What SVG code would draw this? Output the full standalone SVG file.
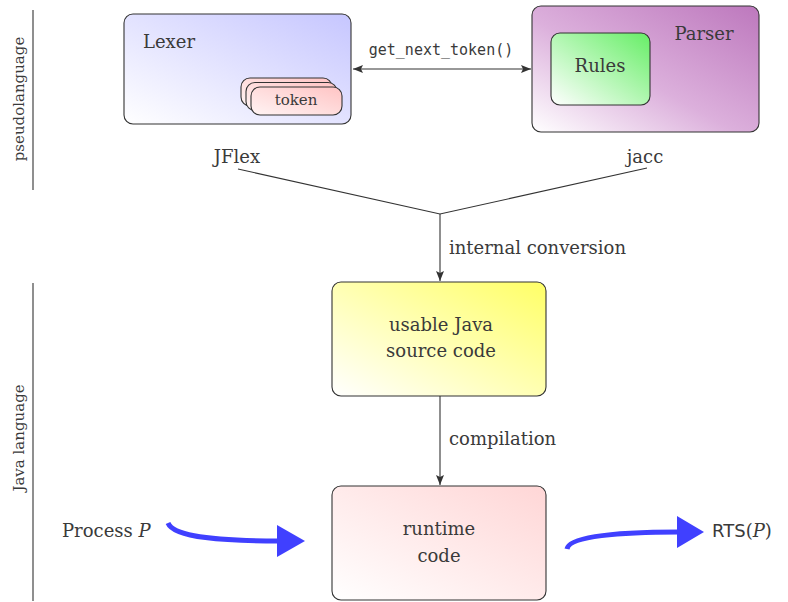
<svg xmlns="http://www.w3.org/2000/svg" width="788" height="602" viewBox="0 0 788 602">
<defs>
<linearGradient id="gLex" x1="0" y1="1" x2="1" y2="0"><stop offset="0" stop-color="#ffffff"/><stop offset="1" stop-color="#c6c6ff"/></linearGradient>
<linearGradient id="gPar" x1="0" y1="1" x2="1" y2="0"><stop offset="0" stop-color="#ffffff"/><stop offset="0.45" stop-color="#dcb0dc"/><stop offset="1" stop-color="#bd78bd"/></linearGradient>
<linearGradient id="gRul" x1="0" y1="1" x2="1" y2="0"><stop offset="0" stop-color="#ffffff"/><stop offset="1" stop-color="#66ee66"/></linearGradient>
<linearGradient id="gTok" x1="0" y1="1" x2="1" y2="0"><stop offset="0" stop-color="#fff4f4"/><stop offset="1" stop-color="#ffc4c4"/></linearGradient>
<linearGradient id="gYel" x1="0" y1="1" x2="1" y2="0"><stop offset="0" stop-color="#ffffff"/><stop offset="1" stop-color="#ffff66"/></linearGradient>
<linearGradient id="gPink" x1="0" y1="1" x2="1" y2="0"><stop offset="0" stop-color="#ffffff"/><stop offset="1" stop-color="#ffd6d6"/></linearGradient>
<marker id="ah" viewBox="0 0 10 8" refX="10" refY="4" markerWidth="10" markerHeight="8" markerUnits="userSpaceOnUse" orient="auto-start-reverse"><path d="M0,0 L10,4 L0,8 L2,4 Z" fill="#333"/></marker>
</defs>
<style>
.box{stroke:#333;stroke-width:1.1}
.t{font-family:"DejaVu Serif","Liberation Serif",serif;font-size:18px;fill:#3a3a3a}
.c{text-anchor:middle}
.ln{fill:none;stroke:#333;stroke-width:1.1}
.blue{fill:none;stroke:#4040ff;stroke-width:5}
.bh{fill:#4040ff}
</style>

<g id="side">
<line x1="33" y1="10" x2="33" y2="190" class="ln"/>
<line x1="33" y1="283" x2="33" y2="601" class="ln"/>
<text class="t c" style="font-size:15px" transform="translate(24,99) rotate(-90)">pseudolanguage</text>
<text class="t c" style="font-size:15px" transform="translate(24,438) rotate(-90)">Java language</text>
</g>

<g id="lexer">
<rect x="124" y="14" width="227" height="110" rx="9" class="box" fill="url(#gLex)"/>
<text x="143" y="48" class="t">Lexer</text>
<g id="token">
<rect x="241" y="78" width="91" height="28" rx="9" class="box" fill="url(#gTok)"/>
<rect x="246" y="82.5" width="91" height="28" rx="9" class="box" fill="url(#gTok)"/>
<rect x="251" y="87" width="91" height="28" rx="9" class="box" fill="url(#gTok)"/>
<text x="296" y="105" class="t c" style="font-size:15px">token</text>
</g>
</g>

<g id="parser">
<rect x="532" y="6" width="227" height="126" rx="9" class="box" fill="url(#gPar)"/>
<text x="704" y="40" class="t c">Parser</text>
<g id="rules">
<rect x="551" y="33" width="99" height="72" rx="9" class="box" fill="url(#gRul)"/>
<text x="600" y="72" class="t c">Rules</text>
</g>
</g>

<g id="jflex"><text x="237" y="163" class="t c">JFlex</text></g>
<g id="jacc"><text x="645" y="163" class="t c">jacc</text></g>

<g id="usable">
<rect x="332" y="282" width="214" height="114" rx="9" class="box" fill="url(#gYel)"/>
<text x="441" y="331" class="t c">usable Java</text>
<text x="441" y="357" class="t c">source code</text>
</g>

<g id="runtime">
<rect x="332" y="486" width="214" height="114" rx="9" class="box" fill="url(#gPink)"/>
<text x="439" y="535" class="t c">runtime</text>
<text x="439" y="562" class="t c">code</text>
</g>

<g id="process"><text x="62" y="537" class="t">Process <tspan font-style="italic">P</tspan></text></g>
<g id="rts"><text x="712" y="537" class="t"><tspan style="font-family:'DejaVu Sans','Liberation Sans',sans-serif">RTS</tspan>(<tspan font-style="italic">P</tspan>)</text></g>

<g id="connectors">
<line x1="353" y1="69" x2="531" y2="69" class="ln" marker-start="url(#ah)" marker-end="url(#ah)"/>
<text x="441" y="55" style="font-family:'DejaVu Sans Mono','Liberation Mono',monospace;font-size:15px;fill:#3a3a3a" text-anchor="middle">get_next_token()</text>
<polyline points="238,169 440,214 647,168" class="ln"/>
<line x1="440" y1="214" x2="440" y2="281" class="ln" marker-end="url(#ah)"/>
<text x="449" y="254" class="t">internal conversion</text>
<line x1="440" y1="396" x2="440" y2="485" class="ln" marker-end="url(#ah)"/>
<text x="449" y="445" class="t">compilation</text>
<path d="M168,523 C174,538 225,541 279,541" class="blue"/>
<polygon points="277,525 305,541 277,557" class="bh"/>
<path d="M567,549 C569,536 620,532 679,532" class="blue"/>
<polygon points="677,516 704,532 677,548" class="bh"/>
</g>
</svg>
